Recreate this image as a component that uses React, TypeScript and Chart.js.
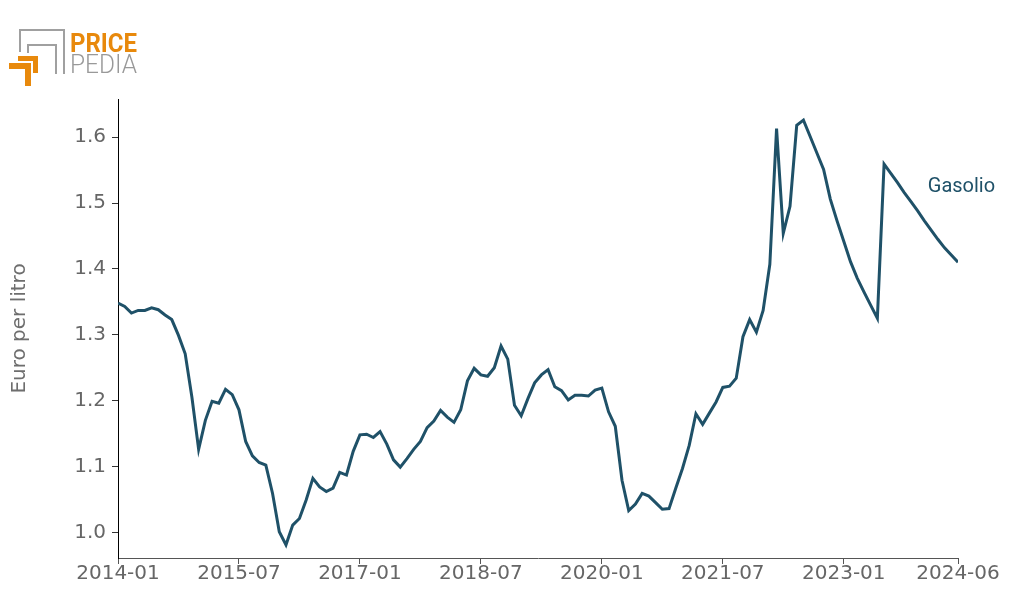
import React, { useEffect, useRef } from "react";
import { Chart, registerables } from "chart.js";

Chart.register(...registerables);

// ---- data ----
const startLabel = "2014-01";
const tickMonths = [0, 18, 36, 54, 72, 90, 108, 125];
const tickLabels = ["2014-01", "2015-07", "2017-01", "2018-07", "2020-01", "2021-07", "2023-01", "2024-06"];
const yTicks = [1.0, 1.1, 1.2, 1.3, 1.4, 1.5, 1.6];
const seriesName = "Gasolio";
const gasolio = [
  1.348, 1.343, 1.333, 1.337, 1.337, 1.341, 1.338, 1.330, 1.323, 1.299,
  1.271, 1.205, 1.126, 1.170, 1.199, 1.196, 1.217, 1.209, 1.186, 1.138,
  1.116, 1.106, 1.102, 1.059, 1.001, 0.981, 1.011, 1.021, 1.049, 1.082,
  1.069, 1.062, 1.067, 1.091, 1.087, 1.123, 1.148, 1.149, 1.144, 1.153,
  1.134, 1.110, 1.099, 1.112, 1.126, 1.138, 1.159, 1.169, 1.185, 1.175,
  1.167, 1.186, 1.230, 1.249, 1.239, 1.237, 1.250, 1.283, 1.263, 1.193,
  1.177, 1.203, 1.227, 1.239, 1.247, 1.221, 1.215, 1.201, 1.208, 1.208,
  1.207, 1.216, 1.219, 1.183, 1.161, 1.079, 1.033, 1.043, 1.059, 1.055,
  1.045, 1.035, 1.036, 1.067, 1.097, 1.132, 1.180, 1.164, 1.181, 1.198,
  1.220, 1.222, 1.234, 1.297, 1.323, 1.304, 1.337, 1.407, 1.613, 1.454,
  1.495, 1.618, 1.626, 1.601, 1.576, 1.551, 1.506, 1.473, 1.442, 1.411,
  1.386, 1.365, 1.345, 1.325, 1.559, 1.545, 1.531, 1.516, 1.502, 1.488,
  1.473, 1.459, 1.445, 1.432, 1.421, 1.410,
];
const labelAt = { x: 120.5, y: 1.524 };

const LINE = "#1f5168";
const TICK = "#666666";

export default function App() {
  const ref = useRef<HTMLCanvasElement | null>(null);

  useEffect(() => {
    if (!ref.current) return;
    const labelPlugin = {
      id: "seriesLabel",
      afterDatasetsDraw(chart: any) {
        const { ctx, scales } = chart;
        ctx.save();
        ctx.font = "20px Roboto";
        ctx.fillStyle = LINE;
        ctx.textAlign = "left";
        ctx.textBaseline = "middle";
        ctx.fillText(seriesName, scales.x.getPixelForValue(labelAt.x), scales.y.getPixelForValue(labelAt.y));
        ctx.restore();
      },
    };
    const chart = new Chart(ref.current, {
      type: "line",
      data: {
        datasets: [
          {
            label: seriesName,
            data: gasolio.map((v, i) => ({ x: i, y: v })),
            borderColor: LINE,
            borderWidth: 3,
            pointRadius: 0,
            tension: 0,
            fill: false,
          },
        ],
      },
      options: {
        animation: false,
        responsive: false,
        devicePixelRatio: 1,
        layout: { padding: { left: 0, top: 91, right: 60, bottom: 0 } },
        plugins: { legend: { display: false }, tooltip: { enabled: false } },
        scales: {
          x: {
            type: "linear",
            min: 0,
            max: gasolio.length - 1,
            afterBuildTicks: (s: any) => {
              s.ticks = tickMonths.map((v) => ({ value: v }));
            },
            afterFit: (s: any) => {
              s.height = 27;
            },
            ticks: {
              autoSkip: false,
              maxRotation: 0,
              color: TICK,
              font: { family: "DejaVu Sans", size: 20 },
              padding: -2,
              callback: (v: any) => {
                const idx = tickMonths.indexOf(Number(v));
                return idx >= 0 ? tickLabels[idx] : startLabel;
              },
            },
            grid: { drawOnChartArea: false, color: "#555", tickLength: 6 },
            border: { color: "#555", width: 1 },
          },
          y: {
            type: "linear",
            min: 0.961,
            max: 1.658,
            afterBuildTicks: (s: any) => {
              s.ticks = yTicks.map((v) => ({ value: v }));
            },
            afterFit: (s: any) => {
              s.width = 110;
            },
            ticks: {
              color: TICK,
              font: { family: "DejaVu Sans", size: 20 },
              padding: 6,
              callback: (v: any) => Number(v).toFixed(1),
            },
            grid: { drawOnChartArea: false, color: "#333", tickLength: 6 },
            border: { color: "#000", width: 1 },
            title: {
              display: true,
              text: "Euro per litro",
              color: "#6e6e6e",
              font: { family: "DejaVu Sans", size: 20 },
              padding: 0,
            },
          },
        },
      },
      plugins: [labelPlugin],
    });
    return () => chart.destroy();
  }, []);

  return (
    <div style={{ position: "relative", width: 1010, height: 577 }}>
      <canvas ref={ref} width={1010} height={577} style={{ display: "block", width: 1010, height: 577 }} />
      <svg
        width={160}
        height={100}
        style={{ position: "absolute", left: -8, top: -8 }}
        viewBox="0 0 160 100"
      >
        <polyline points="20,52 20,30 64,30 64,74" fill="none" stroke="#a0a0a0" strokeWidth={2} />
        <polyline points="28,53 28,45 56,45 56,74" fill="none" stroke="#a0a0a0" strokeWidth={2} />
        <polygon points="18,56 38,56 38,73 33,73 33,61 18,61" fill="#e8890c" />
        <polygon points="9,63 31,63 31,86 25,86 25,69 9,69" fill="#e8890c" />
        <text x={70} y={52} fontFamily="Roboto" fontWeight={700} fontSize={25} fill="#e8890c" textLength={67} lengthAdjust="spacingAndGlyphs">PRICE</text>
        <text x={70} y={73} fontFamily="Roboto" fontWeight={300} fontSize={25} fill="#999999" textLength={67} lengthAdjust="spacingAndGlyphs">PEDIA</text>
      </svg>
    </div>
  );
}
